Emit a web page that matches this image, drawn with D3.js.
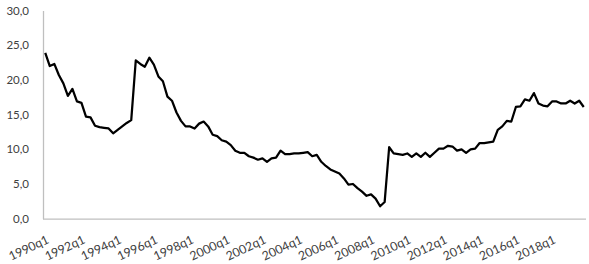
<!DOCTYPE html>
<html>
<head>
<meta charset="utf-8">
<script src="https://cdn.jsdelivr.net/npm/d3@7"></script>
<style>
  body { margin: 0; background: #fff; }
  text { font-family: Lato, "Open Sans", sans-serif; font-size: 11.5px; fill: #404040; }
  .x-labels text { font-size: 12.3px; }
</style>
</head>
<body>
<script>
// quarterly values, 1990q1 .. 2019q4
const startYear = 1990;
const values = [
  23.9, 22.0, 22.3, 20.7, 19.5, 17.7, 18.7, 16.9, 16.7, 14.7,
  14.6, 13.4, 13.2, 13.1, 13.0, 12.3, 12.8, 13.3, 13.8, 14.2,
  22.8, 22.3, 21.9, 23.2, 22.2, 20.5, 19.8, 17.6, 17.0, 15.3,
  14.1, 13.3, 13.3, 13.0, 13.7, 14.0, 13.3, 12.1, 11.9, 11.3,
  11.1, 10.6, 9.8, 9.5, 9.5, 9.0, 8.8, 8.5, 8.7, 8.2,
  8.7, 8.8, 9.8, 9.3, 9.3, 9.4, 9.4, 9.5, 9.6, 9.0,
  9.2, 8.2, 7.6, 7.1, 6.8, 6.5, 5.8, 4.9, 5.0, 4.4,
  3.9, 3.3, 3.5, 2.9, 1.8, 2.4, 10.3, 9.4, 9.3, 9.2,
  9.4, 8.9, 9.4, 8.9, 9.5, 8.9, 9.5, 10.1, 10.1, 10.5,
  10.4, 9.8, 10.0, 9.5, 10.0, 10.1, 10.9, 10.9, 11.0, 11.1,
  12.8, 13.3, 14.1, 14.0, 16.1, 16.2, 17.2, 17.0, 18.1, 16.6,
  16.3, 16.2, 16.9, 16.9, 16.6, 16.6, 17.0, 16.6, 17.0, 16.1
];
const quarters = values.map((v, i) => (startYear + Math.floor(i / 4)) + 'q' + (i % 4 + 1));
const yTicks = [0, 5, 10, 15, 20, 25, 30];
const xTickLabels = quarters.filter((q, i) => i % 8 === 0);

const width = 589;
const height = 264;
const margin = { top: 10, right: 3, bottom: 45, left: 43 };

const svg = d3.select('body')
  .append('svg')
  .attr('width', width)
  .attr('height', height);

const x = d3.scalePoint()
  .domain(quarters)
  .range([margin.left, width - margin.right])
  .padding(0.5);

const y = d3.scaleLinear()
  .domain([0, 30])
  .range([218.7, 10.5]);

const fmt = d => d3.format('.1f')(d).replace('.', ',');

// y axis
const yAxis = svg.append('g')
  .attr('transform', `translate(${margin.left},0)`)
  .call(d3.axisLeft(y).tickValues(yTicks).tickSize(0).tickPadding(14).tickFormat(fmt));
yAxis.select('.domain').attr('stroke', '#bfbfbf').attr('stroke-width', 1.3);

// x axis
const xAxis = svg.append('g')
  .attr('class', 'x-labels')
  .attr('transform', `translate(0,${y(0)})`)
  .call(d3.axisBottom(x).tickValues(xTickLabels).tickSize(0).tickSizeOuter(0));
xAxis.select('.domain')
  .attr('stroke', '#bfbfbf')
  .attr('stroke-width', 1.3)
  .attr('d', `M${margin.left},0.5H${width - margin.right}`);
xAxis.selectAll('.tick text')
  .attr('text-anchor', 'end')
  .attr('y', 0)
  .attr('dy', 0)
  .attr('transform', 'translate(4,24) rotate(-25)');

// line
const line = d3.line()
  .x((d, i) => x(quarters[i]))
  .y(d => y(d));

svg.append('path')
  .datum(values)
  .attr('fill', 'none')
  .attr('stroke', '#000')
  .attr('stroke-width', 2.25)
  .attr('stroke-linejoin', 'round')
  .attr('d', line);
</script>
</body>
</html>
